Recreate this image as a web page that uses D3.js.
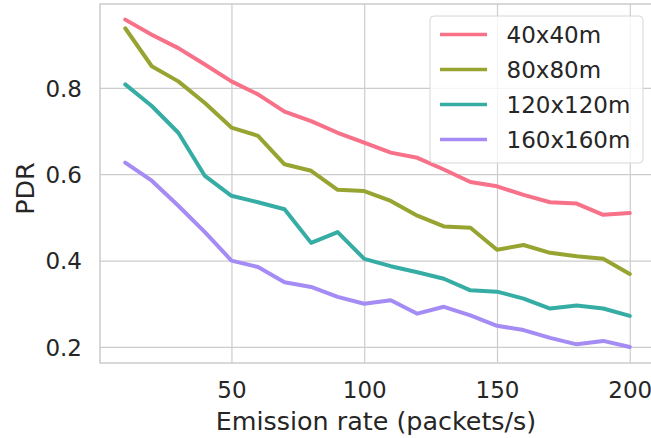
<!DOCTYPE html>
<html><head><meta charset="utf-8">
<script src="https://cdn.jsdelivr.net/npm/d3@7"></script>
<style>body{margin:0;background:#fff}svg{display:block}text{font-family:"DejaVu Sans",sans-serif;fill:#262626}</style>
</head><body><svg id="c" width="651" height="438"></svg>
<script>
const rates = [10,20,30,40,50,60,70,80,90,100,110,120,130,140,150,160,170,180,190,200];
const seriesNames = ["40x40m","80x80m","120x120m","160x160m"];
const pdr40 = [0.958,0.923,0.892,0.854,0.815,0.785,0.745,0.723,0.696,0.673,0.650,0.638,0.611,0.582,0.572,0.552,0.535,0.532,0.506,0.510];
const pdr80 = [0.938,0.850,0.815,0.765,0.708,0.689,0.623,0.608,0.564,0.561,0.538,0.504,0.479,0.476,0.425,0.436,0.418,0.410,0.404,0.369];
const pdr120 = [0.808,0.758,0.696,0.596,0.550,0.535,0.519,0.441,0.466,0.404,0.387,0.373,0.358,0.331,0.328,0.312,0.289,0.296,0.289,0.272];
const pdr160 = [0.627,0.585,0.527,0.466,0.400,0.385,0.350,0.339,0.316,0.300,0.308,0.277,0.293,0.273,0.249,0.239,0.221,0.206,0.214,0.200];
const xTicks = [50,100,150,200];
const yTicks = [0.2,0.4,0.6,0.8];
const colors = ["#f77189","#97a431","#36ada4","#a48cf4"];
const allSeries = [pdr40,pdr80,pdr120,pdr160];

const svg = d3.select("#c");
const L=100, R=655, T=4, B=363;
const x = d3.scaleLinear().domain([0.5,209.5]).range([L,R]);
const y = d3.scaleLinear().domain([0.1628,0.9942]).range([B,T]);
const grid = "#cccccc";

// grid
svg.append("g").attr("transform",`translate(0,${B})`)
  .call(d3.axisBottom(x).tickValues(xTicks).tickSize(-(B-T)).tickFormat(d=>d).tickPadding(0))
  .call(g=>{g.select(".domain").remove();g.selectAll("line").attr("stroke",grid).attr("stroke-width",1.2);
    g.selectAll("text").attr("font-size",23).attr("fill","#262626").attr("y",35).attr("dy",0);});
svg.append("g").attr("transform",`translate(${L},0)`)
  .call(d3.axisLeft(y).tickValues(yTicks).tickSize(-(R-L)).tickFormat(d3.format(".1f")).tickPadding(18))
  .call(g=>{g.select(".domain").remove();g.selectAll("line").attr("stroke",grid).attr("stroke-width",1.2);
    g.selectAll("text").attr("font-size",23).attr("fill","#262626").attr("dy","0.36em");});
svg.append("rect").attr("x",L).attr("y",T).attr("width",R-L).attr("height",B-T)
  .attr("fill","none").attr("stroke",grid).attr("stroke-width",1.5);

// lines
const line = d3.line().x((d,i)=>x(rates[i])).y(d=>y(d));
allSeries.forEach((s,k)=>{
  svg.append("path").datum(s).attr("d",line).attr("fill","none")
    .attr("stroke",colors[k]).attr("stroke-width",4).attr("stroke-linejoin","round").attr("stroke-linecap","round");
});

// legend
const lg = svg.append("g");
lg.append("rect").attr("x",430).attr("y",16).attr("width",213).attr("height",147).attr("rx",4)
  .attr("fill","#fff").attr("fill-opacity",0.8).attr("stroke","#d6d6d6").attr("stroke-width",1);
seriesNames.forEach((n,k)=>{
  const yy = 34.5 + k*35;
  lg.append("line").attr("x1",440).attr("x2",487).attr("y1",yy).attr("y2",yy)
    .attr("stroke",colors[k]).attr("stroke-width",3.6);
  lg.append("text").attr("x",506.5).attr("y",yy).attr("dy","0.36em").attr("font-size",23).text(n);
});

// labels
svg.append("text").attr("x",376).attr("y",430).attr("text-anchor","middle")
  .attr("font-size",25.4).text("Emission rate (packets/s)");
svg.append("text").attr("transform","translate(25,188.5) rotate(-90)").attr("text-anchor","middle").attr("dy","0.36em")
  .attr("font-size",25.4).text("PDR");
</script></body></html>
